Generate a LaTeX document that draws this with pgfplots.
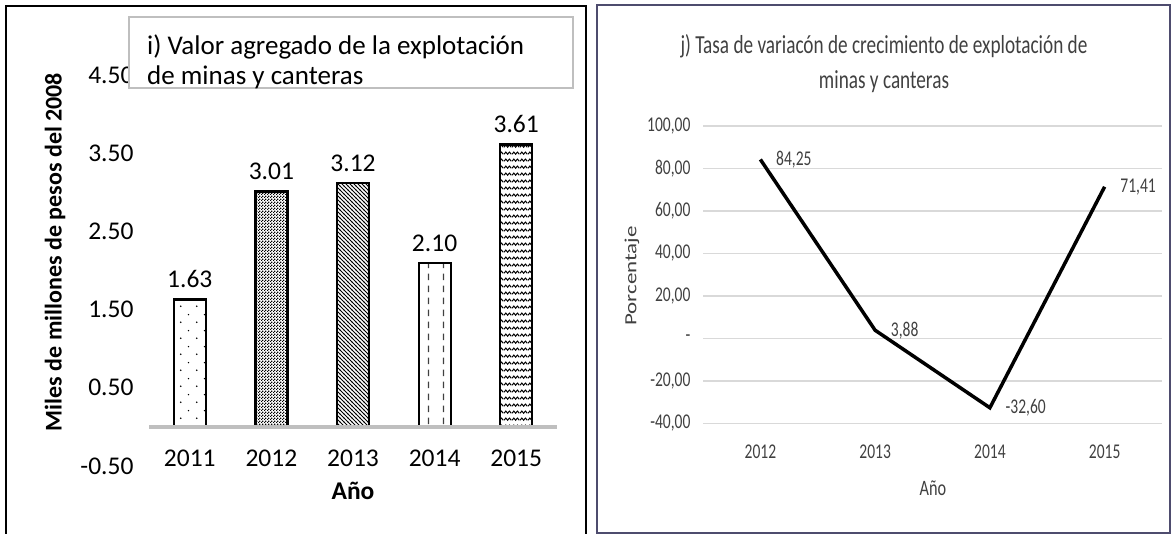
\documentclass[border=0pt]{standalone}
\usepackage{fontspec}
\setmainfont{Carlito}
\usepackage{graphicx}
\usepackage{pgfplots}
\pgfplotsset{compat=1.18}
\usetikzlibrary{patterns}

\definecolor{axgray}{RGB}{191,191,191}
\definecolor{gridgray}{RGB}{217,217,217}
\definecolor{frameblue}{RGB}{78,76,110}
\definecolor{txtgray}{RGB}{64,64,64}

% rellenos de las barras
\pgfdeclarepatternformonly{sparsedots}{\pgfqpoint{0pt}{0pt}}{\pgfqpoint{16pt}{16pt}}{\pgfqpoint{16pt}{16pt}}{
  \pgfpathcircle{\pgfqpoint{5pt}{4pt}}{0.9pt}
  \pgfpathcircle{\pgfqpoint{13pt}{12pt}}{0.9pt}
  \pgfusepath{fill}}
\pgfdeclarepatternformonly{checker}{\pgfqpoint{0pt}{0pt}}{\pgfqpoint{3pt}{3pt}}{\pgfqpoint{3pt}{3pt}}{
  \pgfpathrectangle{\pgfqpoint{0pt}{0pt}}{\pgfqpoint{1.5pt}{1.5pt}}
  \pgfpathrectangle{\pgfqpoint{1.5pt}{1.5pt}}{\pgfqpoint{1.5pt}{1.5pt}}
  \pgfusepath{fill}}
\pgfdeclarepatternformonly{diagnw}{\pgfqpoint{-1pt}{-1pt}}{\pgfqpoint{5pt}{5pt}}{\pgfqpoint{4pt}{4pt}}{
  \pgfsetlinewidth{0.9pt}
  \pgfpathmoveto{\pgfqpoint{-0.2pt}{4.2pt}}
  \pgfpathlineto{\pgfqpoint{4.2pt}{-0.2pt}}
  \pgfusepath{stroke}}
\pgfdeclarepatternformonly{vdash}{\pgfqpoint{0pt}{0pt}}{\pgfqpoint{15pt}{12pt}}{\pgfqpoint{15pt}{12pt}}{
  \pgfsetlinewidth{1.4pt}
  \pgfpathmoveto{\pgfqpoint{9pt}{2pt}}
  \pgfpathlineto{\pgfqpoint{9pt}{9pt}}
  \pgfusepath{stroke}}
\pgfdeclarepatternformonly{zigzag}{\pgfqpoint{0pt}{0pt}}{\pgfqpoint{8pt}{7pt}}{\pgfqpoint{8pt}{7pt}}{
  \pgfsetlinewidth{1.1pt}
  \pgfpathmoveto{\pgfqpoint{0pt}{2pt}}
  \pgfpathlineto{\pgfqpoint{2pt}{4.5pt}}
  \pgfpathlineto{\pgfqpoint{4pt}{2pt}}
  \pgfpathlineto{\pgfqpoint{6pt}{4.5pt}}
  \pgfpathlineto{\pgfqpoint{8pt}{2pt}}
  \pgfusepath{stroke}}

\newcommand\lf{\fontsize{25.5}{30}\selectfont}
\newcommand\rf{\fontsize{21}{25}\selectfont}
\newcommand\nar[1]{\scalebox{0.74}[1]{#1}}

\begin{document}
\begin{tikzpicture}

% ---- panel i) ----
\begin{axis}[
    at={(149pt,68pt)}, anchor=south west,
    scale only axis, width=408pt, height=391pt,
    xmin=-0.5, xmax=4.5, ymin=-0.5, ymax=4.5,
    xtick={0,...,4}, xticklabels={2011,2012,2013,2014,2015},
    ytick={-0.5,0.5,...,4.5},
    axis line style={draw=none}, major tick length=0pt,
    tick label style={font=\lf},
    yticklabel style={xshift=-12pt, /pgf/number format/.cd, fixed, fixed zerofill, precision=2, assume math mode=true},
    xticklabel style={anchor=center, yshift=8pt},
    nodes near coords,
    every node near coord/.append style={font=\lf, yshift=7pt,
        /pgf/number format/.cd, fixed, fixed zerofill, precision=2, assume math mode=true},
    clip=false,
]
\pgfplotsset{every axis plot/.append style={ybar, bar width=32pt, bar shift=0pt, draw=black, line width=2.2pt}}
\addplot[pattern=sparsedots, pattern color=black] coordinates {(0,1.63)};
\addplot[pattern=checker, pattern color=black] coordinates {(1,3.01)};
\addplot[pattern=diagnw, pattern color=black] coordinates {(2,3.12)};
\addplot[pattern=vdash, pattern color=txtgray] coordinates {(3,2.10)};
\addplot[pattern=zigzag, pattern color=black] coordinates {(4,3.61)};
\draw[line width=4pt, axgray] (axis cs:-0.5,0) -- (axis cs:4.5,0);
\end{axis}

\draw[axgray, line width=1.5pt, fill=white] (129pt,446pt) rectangle (573pt,517pt);
\node[anchor=west, inner sep=0pt, font=\fontsize{27}{32}\selectfont] at (147pt,487pt) {i) Valor agregado de la explotación};
\node[anchor=west, inner sep=0pt, font=\fontsize{27}{32}\selectfont] at (147pt,457pt) {de minas y canteras};
\node[rotate=90, font=\bfseries\fontsize{24}{28}\selectfont] at (55pt,282pt) {Miles de millones de pesos del 2008};
\node[font=\bfseries\lf] at (353pt,43pt) {Año};

% ---- panel j) ----
\begin{axis}[
    at={(703pt,110.5pt)}, anchor=south west,
    scale only axis, width=459pt, height=297.5pt,
    xmin=-0.5, xmax=3.5, ymin=-40, ymax=100,
    xtick={0,...,3}, xticklabels={2012,2013,2014,2015},
    ytick={-40,-20,...,100},
    yticklabels={{-40,00},{-20,00},{-},{20,00},{40,00},{60,00},{80,00},{100,00}},
    ymajorgrids, grid style={line width=1.3pt, gridgray},
    axis line style={draw=none}, major tick length=0pt,
    tick label style={font=\rf, text=txtgray},
    yticklabel style={xshift=-10pt, xscale=0.74},
    xticklabel style={anchor=center, yshift=-28.5pt, xscale=0.74},
    clip=false,
]
\addplot[line width=3.5pt, black, mark=none, nodes near coords, point meta=y,
    every node near coord/.append style={anchor=west, xshift=12pt, xscale=0.74, font=\rf, text=txtgray,
        /pgf/number format/.cd, fixed, fixed zerofill, precision=2, use comma, assume math mode=true}]
    coordinates {(0,84.25) (1,3.88) (2,-32.60) (3,71.41)};
\end{axis}

\node[font=\fontsize{26}{30}\selectfont, text=txtgray] at (884pt,488pt) {\nar{j) Tasa de variacón de crecimiento de explotación de}};
\node[font=\fontsize{26}{30}\selectfont, text=txtgray] at (884pt,452pt) {\nar{minas y canteras}};
\node[font=\fontsize{22}{26}\selectfont, text=txtgray] at (933pt,46pt) {\nar{Año}};
\node[rotate=90, font=\fontsize{23}{27}\selectfont, text=txtgray] at (632pt,258pt) {\scalebox{1}[0.74]{Porcentaje}};

% marcos de los dos paneles
\draw[line width=2pt] (6pt,-3pt) -- (6pt,528pt) -- (586pt,528pt) -- (586pt,-3pt);
\draw[line width=2pt, frameblue] (597pt,1pt) rectangle (1170pt,529pt);

\pgfresetboundingbox
\useasboundingbox (0pt,0pt) rectangle (1172pt,534pt);
\end{tikzpicture}
\end{document}
